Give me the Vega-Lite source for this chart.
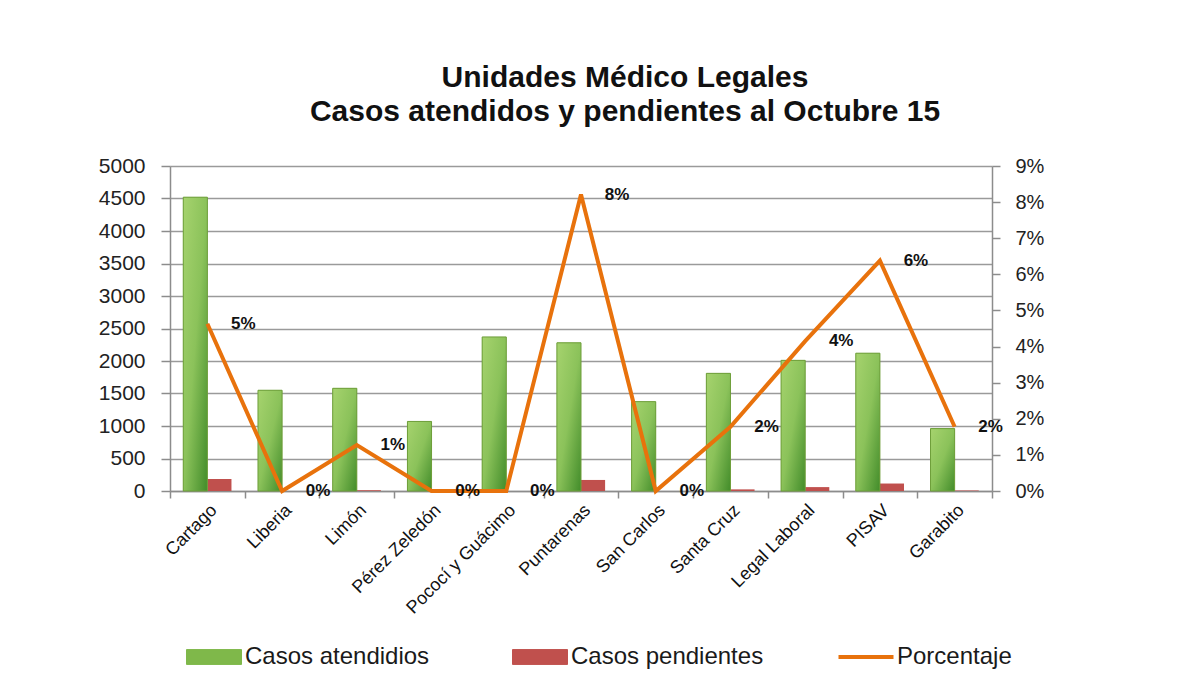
{
  "$schema": "https://vega.github.io/schema/vega-lite/v6.json",
  "width": 822,
  "height": 325,
  "autosize": {"type": "none"},
  "padding": {"left": 170, "top": 166, "right": 189, "bottom": 187},
  "background": "white",
  "title": {
    "text": ["Unidades Médico Legales", "Casos atendidos y pendientes al Octubre 15"],
    "font": "Liberation Sans",
    "fontSize": 30,
    "fontWeight": "bold",
    "lineHeight": 34,
    "anchor": "middle",
    "dx": 44,
    "offset": 28,
    "color": "#111111"
  },
  "config": {
    "view": {"stroke": null},
    "axis": {
      "labelFont": "Liberation Sans",
      "labelColor": "#222222",
      "domainColor": "#8c8c8c",
      "tickColor": "#8c8c8c",
      "gridColor": "#9a9a9a",
      "domainWidth": 1.5,
      "tickWidth": 1.5,
      "gridWidth": 1.5,
      "labelOverlap": false,
      "labelFlush": false
    }
  },
  "datasets": {
    "barras": [
      {"unidad": "Cartago", "serie": "Casos atendidios", "casos": 4520},
      {"unidad": "Cartago", "serie": "Casos pendientes", "casos": 185},
      {"unidad": "Liberia", "serie": "Casos atendidios", "casos": 1550},
      {"unidad": "Liberia", "serie": "Casos pendientes", "casos": 0},
      {"unidad": "Limón", "serie": "Casos atendidios", "casos": 1580},
      {"unidad": "Limón", "serie": "Casos pendientes", "casos": 12},
      {"unidad": "Pérez Zeledón", "serie": "Casos atendidios", "casos": 1070},
      {"unidad": "Pérez Zeledón", "serie": "Casos pendientes", "casos": 0},
      {"unidad": "Pococí y Guácimo", "serie": "Casos atendidios", "casos": 2370},
      {"unidad": "Pococí y Guácimo", "serie": "Casos pendientes", "casos": 0},
      {"unidad": "Puntarenas", "serie": "Casos atendidios", "casos": 2280},
      {"unidad": "Puntarenas", "serie": "Casos pendientes", "casos": 170},
      {"unidad": "San Carlos", "serie": "Casos atendidios", "casos": 1375},
      {"unidad": "San Carlos", "serie": "Casos pendientes", "casos": 0},
      {"unidad": "Santa Cruz", "serie": "Casos atendidios", "casos": 1810},
      {"unidad": "Santa Cruz", "serie": "Casos pendientes", "casos": 25},
      {"unidad": "Legal Laboral", "serie": "Casos atendidios", "casos": 2010},
      {"unidad": "Legal Laboral", "serie": "Casos pendientes", "casos": 60},
      {"unidad": "PISAV", "serie": "Casos atendidios", "casos": 2120},
      {"unidad": "PISAV", "serie": "Casos pendientes", "casos": 115},
      {"unidad": "Garabito", "serie": "Casos atendidios", "casos": 960},
      {"unidad": "Garabito", "serie": "Casos pendientes", "casos": 8}
    ],
    "porcentaje": [
      {"unidad": "Cartago", "pct": 0.0463},
      {"unidad": "Liberia", "pct": 0.0},
      {"unidad": "Limón", "pct": 0.0127},
      {"unidad": "Pérez Zeledón", "pct": 0.0},
      {"unidad": "Pococí y Guácimo", "pct": 0.0},
      {"unidad": "Puntarenas", "pct": 0.0821},
      {"unidad": "San Carlos", "pct": 0.0},
      {"unidad": "Santa Cruz", "pct": 0.0178},
      {"unidad": "Legal Laboral", "pct": 0.0415},
      {"unidad": "PISAV", "pct": 0.0638},
      {"unidad": "Garabito", "pct": 0.0178}
    ]
  },
  "encoding": {
    "x": {
      "field": "unidad",
      "type": "nominal",
      "sort": null,
      "scale": {"paddingInner": 0, "paddingOuter": 0},
      "axis": {
        "title": null,
        "labelAngle": -45,
        "labelFontSize": 18,
        "labelColor": "#111111",
        "tickBand": "extent",
        "tickSize": 7,
        "labelPadding": 3
      }
    }
  },
  "layer": [
    {
      "data": {"name": "barras"},
      "encoding": {
        "xOffset": {
          "field": "serie",
          "type": "nominal",
          "scale": {"domain": ["Casos atendidios", "Casos pendientes"], "paddingInner": 0, "paddingOuter": 0.55}
        },
        "y": {
          "field": "casos",
          "type": "quantitative",
          "scale": {"domain": [0, 5000], "nice": false},
          "axis": {
            "title": null,
            "orient": "left",
            "values": [0, 500, 1000, 1500, 2000, 2500, 3000, 3500, 4000, 4500, 5000],
            "tickCount": 11,
            "format": "d",
            "grid": true,
            "tickSize": 9,
            "labelPadding": 16,
            "labelFontSize": 21
          }
        }
      },
      "layer": [
        {
          "mark": {"type": "bar"},
          "encoding": {
            "color": {
              "field": "serie",
              "type": "nominal",
              "scale": {
                "domain": ["Casos atendidios", "Casos pendientes", "Porcentaje"],
                "range": ["#7fb84a", "#c0504d", "#e8720c"]
              },
              "legend": {
                "orient": "none",
                "legendX": 32,
                "legendY": 479,
                "direction": "horizontal",
                "columns": 3,
                "gridAlign": "all",
                "columnPadding": 66,
                "title": null,
                "symbolSize": 3025,
                "symbolOffset": 0,
                "labelOffset": 19,
                "labelFont": "Liberation Sans",
                "labelFontSize": 24,
                "labelColor": "#1a1a1a",
                "labelLimit": 300,
                "encode": {
                  "symbols": {
                    "update": {
                      "shape": {"signal": "datum.value === 'Porcentaje' ? 'M-1,0H1' : 'M-1,-0.27H1V0.27H-1Z'"},
                      "fill": {"signal": "datum.value === 'Casos atendidios' ? '#7fb84a' : (datum.value === 'Casos pendientes' ? '#c0504d' : 'transparent')"},
                      "stroke": {"signal": "datum.value === 'Porcentaje' ? '#e8720c' : (datum.value === 'Casos atendidios' ? '#6e9e3a' : '#c0504d')"},
                      "strokeWidth": {"signal": "datum.value === 'Porcentaje' ? 4 : 1"},
                      "opacity": {"value": 1}
                    }
                  }
                }
              }
            }
          }
        },
        {
          "transform": [{"filter": "datum.serie === 'Casos atendidios'"}],
          "mark": {
            "type": "bar",
            "fill": {
              "gradient": "linear",
              "x1": 0, "y1": 0, "x2": 1, "y2": 1,
              "stops": [
                {"offset": 0, "color": "#a6d36e"},
                {"offset": 0.5, "color": "#8bc25a"},
                {"offset": 1, "color": "#428c2a"}
              ]
            },
            "stroke": "#6e9e3a",
            "strokeWidth": 1
          }
        }
      ]
    },
    {
      "data": {"name": "porcentaje"},
      "encoding": {
        "y": {
          "field": "pct",
          "type": "quantitative",
          "scale": {"domain": [0, 0.09], "nice": false},
          "axis": {
            "title": null,
            "orient": "right",
            "values": [0, 0.01, 0.02, 0.03, 0.04, 0.05, 0.06, 0.07, 0.08, 0.09],
            "tickCount": 10,
            "format": ".0%",
            "grid": false,
            "tickSize": 8,
            "labelPadding": 15,
            "labelFontSize": 20
          }
        }
      },
      "layer": [
        {
          "mark": {"type": "line", "strokeWidth": 4, "strokeJoin": "miter"},
          "encoding": {
            "color": {"datum": "Porcentaje"}
          }
        },
        {
          "mark": {"type": "text", "dx": 36, "align": "center", "baseline": "middle", "font": "Liberation Sans", "fontSize": 17, "fontWeight": "bold", "color": "#111111"},
          "encoding": {
            "text": {"field": "pct", "type": "quantitative", "format": ".0%"}
          }
        }
      ]
    }
  ],
  "resolve": {"scale": {"y": "independent"}}
}
